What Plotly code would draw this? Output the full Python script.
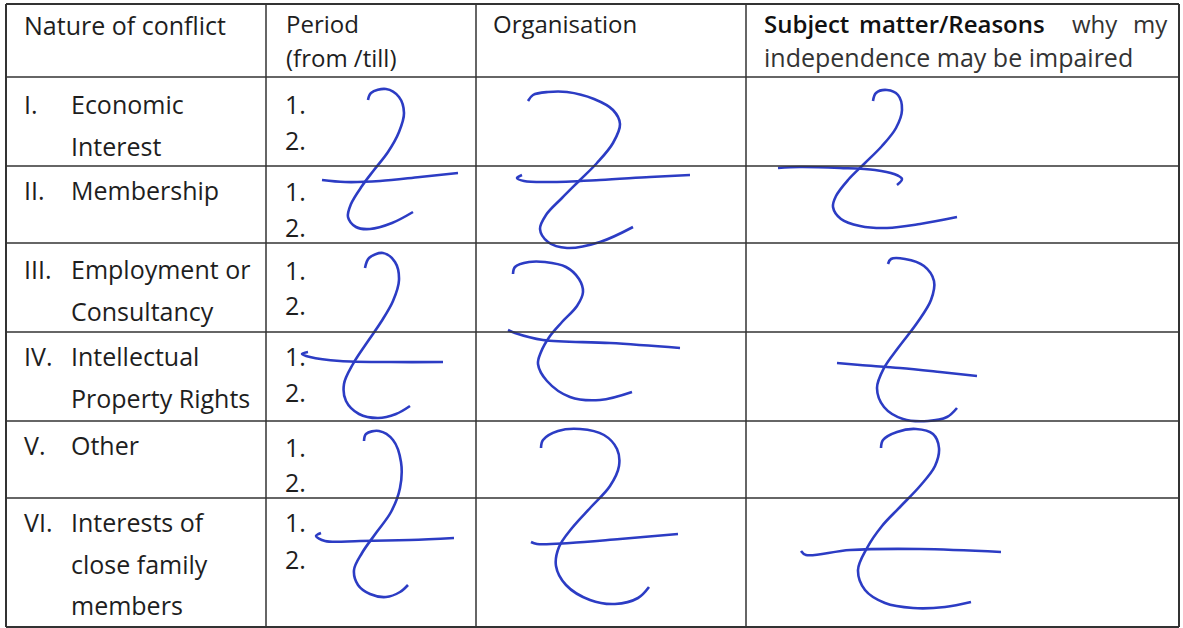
import plotly.graph_objects as go

# table text
header_left = "Nature of conflict"
header_period = ["Period", "(from /till)"]
header_org = "Organisation"
header_subject_words = ["Subject", "matter/Reasons", "why", "my"]
header_subject_line2 = "independence may be impaired"

numerals = ["I.", "II.", "III.", "IV.", "V.", "VI."]
natures = [["Economic", "Interest"],
           ["Membership"],
           ["Employment or", "Consultancy"],
           ["Intellectual", "Property Rights"],
           ["Other"],
           ["Interests of", "close family", "members"]]
items = ["1.", "2."]

# handwritten strike marks (pen strokes), one curve + one crossbar each
mark_a = [(368, 100), (371, 93), (386, 89), (399, 97), (404, 113), (399, 132), (388, 152), (374, 170),
          (362, 186), (351, 204), (348, 217), (356, 227), (370, 229), (392, 223), (413, 212)]
bar_a = [(322, 180), (345, 182), (380, 181), (420, 177), (458, 173)]
mark_b = [(528, 101), (533, 95), (548, 92), (567, 92), (594, 99), (613, 110), (620, 124), (613, 143),
          (597, 163), (580, 180), (562, 198), (546, 215), (540, 229), (548, 242), (567, 248), (600, 242), (633, 227)]
bar_b = [(522, 175), (517, 178), (524, 181), (550, 182), (600, 180), (650, 177), (690, 175)]
mark_c = [(873, 101), (876, 93), (887, 90), (898, 95), (902, 110), (896, 128), (882, 146), (864, 164),
          (848, 180), (836, 196), (833, 207), (841, 219), (860, 226), (887, 228), (920, 224), (957, 217)]
bar_c = [(778, 168), (800, 167), (840, 168), (875, 170), (894, 174), (902, 179), (897, 185)]
mark_d = [(365, 268), (369, 258), (383, 253), (395, 262), (399, 280), (393, 301), (381, 322), (366, 344),
          (353, 364), (344, 384), (346, 401), (359, 414), (378, 418), (396, 414), (410, 406)]
bar_d = [(308, 352), (302, 354), (310, 357), (340, 361), (390, 362), (443, 362)]
mark_e = [(513, 274), (515, 267), (529, 262), (545, 262), (566, 267), (579, 279), (583, 292), (577, 306),
          (562, 322), (550, 336), (541, 352), (538, 364), (547, 381), (570, 397), (600, 400), (632, 392)]
bar_e = [(508, 330), (515, 333), (543, 340), (610, 343), (680, 348)]
mark_f = [(888, 264), (891, 259), (905, 259), (924, 266), (934, 281), (931, 300), (917, 323), (898, 348),
          (884, 368), (877, 388), (884, 407), (903, 419), (928, 421), (947, 417), (957, 408)]
bar_f = [(837, 363), (860, 365), (900, 368), (940, 372), (977, 376)]
mark_g = [(364, 441), (366, 434), (379, 431), (393, 440), (401, 462), (400, 488), (391, 512), (376, 533),
          (362, 553), (354, 570), (358, 585), (370, 594), (386, 597), (400, 592), (408, 585)]
bar_g = [(321, 533), (316, 536), (325, 541), (360, 541), (410, 540), (454, 538)]
mark_h = [(541, 448), (543, 440), (558, 431), (580, 429), (604, 435), (617, 449), (619, 466), (610, 486),
          (591, 507), (572, 528), (559, 547), (556, 566), (566, 585), (590, 600), (615, 604), (638, 598), (649, 587)]
bar_h = [(531, 542), (537, 544), (570, 543), (620, 539), (678, 534)]
mark_i = [(881, 448), (883, 440), (897, 432), (916, 429), (933, 434), (939, 448), (935, 466), (920, 486),
          (900, 507), (882, 526), (867, 548), (858, 570), (865, 590), (885, 603), (913, 608), (945, 607), (971, 602)]
bar_i = [(801, 551), (806, 555), (850, 550), (920, 549), (1001, 552)]

strokes = [mark_a, bar_a, mark_b, bar_b, mark_c, bar_c, mark_d, bar_d, mark_e, bar_e,
           mark_f, bar_f, mark_g, bar_g, mark_h, bar_h, mark_i, bar_i]

# layout of the grid
col_edges = [6, 266, 476, 746, 1179]
row_edges = [4, 77, 166, 243, 332, 421, 498, 627]
first_line_y = [104, 190, 269, 356, 445, 522]
item_y = [(104, 140), (191, 227), (270, 305), (356, 392), (447, 482), (522, 559)]
line_gap = 41.5

FONT = "Open Sans"
FS = 25
HFS = 24
TXT = "#1e1e1e"
INK = "#2c3cc4"

fig = go.Figure()

for s in strokes:
    fig.add_trace(go.Scatter(x=[p[0] for p in s], y=[p[1] for p in s], mode="lines",
                             line=dict(color=INK, width=2.6, shape="spline", smoothing=1.0),
                             hoverinfo="skip", showlegend=False))

shapes = []
for i, x in enumerate(col_edges):
    w = 2 if i in (0, len(col_edges) - 1) else 1.5
    shapes.append(dict(type="line", x0=x, x1=x, y0=row_edges[0], y1=row_edges[-1],
                       line=dict(color="#333333", width=w)))
for i, y in enumerate(row_edges):
    w = 2 if i in (0, len(row_edges) - 1) else 1.5
    shapes.append(dict(type="line", x0=col_edges[0], x1=col_edges[-1], y0=y, y1=y,
                       line=dict(color="#333333", width=w)))

ann = []


def txt(s, x, y, anchor="left", color=TXT, weight="normal", size=FS):
    ann.append(dict(text=s, x=x, y=y, xref="x", yref="y", xanchor=anchor, yanchor="middle",
                    showarrow=False, font=dict(family=FONT, size=size, color=color, weight=weight)))


txt(header_left, 22, 25, size=HFS + 1)
txt(header_period[0], 284, 23, size=HFS)
txt(header_period[1], 284, 57, size=HFS)
txt(header_org, 491, 23, size=HFS)
txt(header_subject_words[0], 762, 23, color="#111111", weight=600, size=HFS)
txt(header_subject_words[1], 857, 23, color="#111111", weight=600, size=HFS)
txt(header_subject_words[2], 1070, 23, color="#333333", size=HFS)
txt(header_subject_words[3], 1170, 23, anchor="right", color="#333333", size=HFS)
txt(header_subject_line2, 762, 57, color="#333333", size=HFS + 1)

for r in range(len(numerals)):
    txt(numerals[r], 22, first_line_y[r])
    for k, line in enumerate(natures[r]):
        txt(line, 69, first_line_y[r] + k * line_gap)
    for k, it in enumerate(items):
        txt(it, 283, item_y[r][k])

fig.update_layout(
    width=1183, height=628,
    margin=dict(l=0, r=0, t=0, b=0),
    paper_bgcolor="white", plot_bgcolor="white",
    xaxis=dict(range=[0, 1183], visible=False, fixedrange=True),
    yaxis=dict(range=[628, 0], visible=False, fixedrange=True),
    shapes=shapes, annotations=ann,
)

fig.write_html("out.html", config={"displayModeBar": False},
               post_script="document.body.style.margin='0';")
